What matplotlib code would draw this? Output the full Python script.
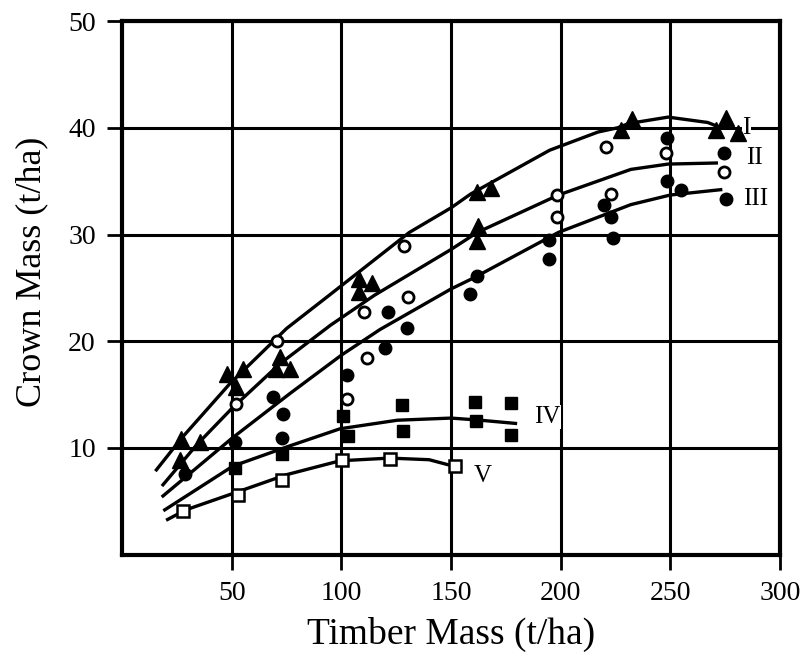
import matplotlib
matplotlib.use("Agg")
import matplotlib.pyplot as plt

plt.rcParams['font.family'] = ['Liberation Serif', 'DejaVu Serif']

# measured points (timber mass, crown mass), t/ha
i_x = [27, 35.4, 26.5, 48, 55, 52, 72, 70, 76.5, 107.8, 113.9, 107.8,
       161.8, 168, 162.5, 161.8, 227.4, 232.7, 275.3, 270.8, 280.7]
i_y = [10.8, 10.6, 8.9, 16.9, 17.4, 15.7, 18.5, 17.4, 17.4, 25.8, 25.5, 24.6,
       34.0, 34.4, 30.8, 29.4, 39.8, 40.8, 40.9, 39.8, 39.5]

ii_x = [52, 70.4, 102.4, 110.1, 111.6, 128.6, 130.5, 198.4, 198.4, 220.5,
        222.8, 247.9, 274.5]
ii_y = [14.1, 20.0, 14.6, 22.7, 18.4, 28.9, 24.1, 33.7, 31.6, 38.2,
        33.8, 37.6, 35.9]

iii_x = [28.5, 51.4, 72.7, 73.4, 68.8, 102.4, 121.4, 129.8, 119.9, 158.7,
         161.9, 194.5, 194.5, 219.6, 222.8, 223.7, 248.7, 248.7, 254.8,
         274.5, 275.5]
iii_y = [7.6, 10.6, 10.9, 13.2, 14.8, 16.8, 22.7, 21.2, 19.4, 24.4,
         26.1, 29.5, 27.7, 32.8, 31.6, 29.7, 39.0, 35.0, 34.2,
         37.6, 33.3]

iv_x = [51.4, 72.8, 100.8, 103, 127.7, 128.2, 161, 161.5, 177.5, 177.5]
iv_y = [8.1, 9.4, 13.0, 11.1, 14.0, 11.6, 14.3, 12.5, 14.2, 11.2]

v_x = [27.6, 52.9, 72.7, 100.3, 122.3, 152]
v_y = [4.1, 5.6, 7.0, 8.9, 9.0, 8.3]

# fitted curves
fit_i_x = [15.6, 27, 49, 75, 95, 131, 150, 159, 195, 217, 226, 231, 249, 267, 272]
fit_i_y = [7.95, 10.9, 16.0, 21.2, 24.4, 30.2, 32.5, 33.8, 37.9, 39.6, 40.0,
           40.4, 41.0, 40.5, 40.1]
fit_ii_x = [18.6, 34, 50, 72, 95, 115, 150, 162, 199, 232, 249, 271]
fit_ii_y = [6.55, 10.3, 13.7, 17.9, 21.5, 24.3, 28.6, 30.2, 33.7, 36.1, 36.6, 36.7]
fit_iii_x = [18.6, 50, 76.5, 100, 117.6, 150, 160, 199, 232, 250, 273]
fit_iii_y = [5.5, 10.9, 15.1, 18.7, 21.1, 24.9, 25.9, 30.2, 32.8, 33.7, 34.2]
fit_iv_x = [19.4, 50.5, 76.5, 99.4, 125.5, 150, 163.4, 179.4]
fit_iv_y = [4.2, 8.3, 10.2, 11.8, 12.6, 12.8, 12.6, 12.3]
fit_v_x = [20.7, 29, 50, 75, 99.4, 122, 140, 151]
fit_v_y = [3.3, 4.2, 5.7, 7.5, 8.8, 9.05, 8.9, 8.3]

labels = ['I', 'II', 'III', 'IV', 'V']
label_x = [284.8, 288.2, 289.0, 194, 164.3]
label_y = [40.0, 37.2, 33.3, 12.9, 7.4]

fig = plt.figure(figsize=(8.04, 6.58), dpi=100)
ax = fig.add_axes([0.152, 0.157, 0.818, 0.811])

for fx, fy in [(fit_i_x, fit_i_y), (fit_ii_x, fit_ii_y), (fit_iii_x, fit_iii_y),
               (fit_iv_x, fit_iv_y), (fit_v_x, fit_v_y)]:
    ax.plot(fx, fy, color='black', lw=2.4, zorder=3, solid_joinstyle='round')

ax.plot(i_x, i_y, '^', ms=11, color='black', zorder=5)
ax.plot(ii_x, ii_y, 'o', ms=8, mfc='white', mec='black', mew=2, zorder=5)
ax.plot(iii_x, iii_y, 'o', ms=9, color='black', zorder=5)
ax.plot(iv_x, iv_y, 's', ms=8.5, color='black', zorder=5)
ax.plot(v_x, v_y, 's', ms=8, mfc='white', mec='black', mew=1.8, zorder=5)

for t, lx, ly in zip(labels, label_x, label_y):
    ax.text(lx, ly, t, fontsize=18, ha='center', va='center', zorder=4,
            bbox=dict(facecolor='white', edgecolor='none', pad=0.5))

ax.set_xlim(0, 300)
ax.set_ylim(0, 50)
ax.set_xticks([50, 100, 150, 200, 250, 300])
ax.set_yticks([10, 20, 30, 40, 50])
ax.grid(True, color='black', lw=2.2)
ax.set_axisbelow(True)
for s in ax.spines.values():
    s.set_linewidth(3)
ax.tick_params(direction='out', length=11, width=2, labelsize=20, pad=8)
ax.set_xlabel('Timber Mass (t/ha)', fontsize=27, labelpad=8)
ax.set_ylabel('Crown Mass (t/ha)', fontsize=26, labelpad=10)
ax.yaxis.set_label_coords(-0.112, 0.53)

fig.savefig('out.png', dpi=100)
